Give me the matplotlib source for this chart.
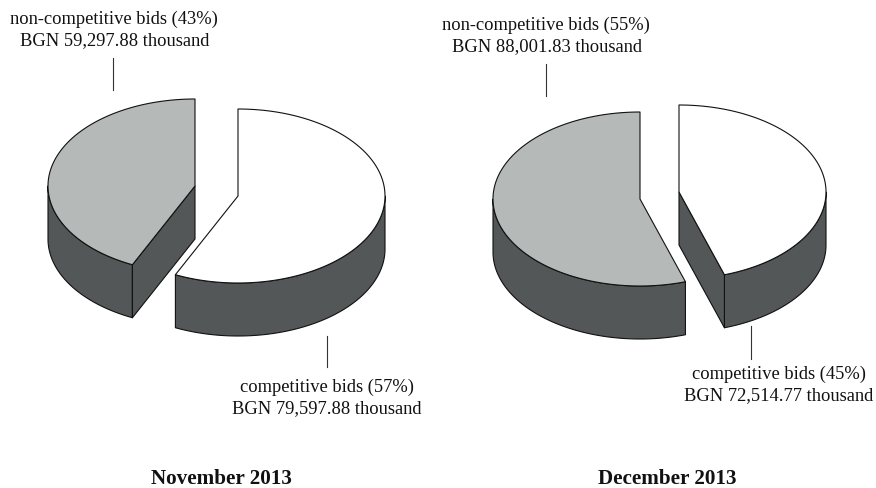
import numpy as np
import matplotlib
matplotlib.use("Agg")
import matplotlib.pyplot as plt
from matplotlib.patches import Polygon

months = ["November 2013", "December 2013"]
noncompetitive_share = [43, 55]
competitive_share = [57, 45]
noncompetitive_value = ["59,297.88", "88,001.83"]
competitive_value = ["79,597.88", "72,514.77"]

RX, RY, DEPTH = 147, 87, 53
TOP = "#b5b9b8"
WALL = "#535757"
EDGE = "#111111"
plt.rcParams["font.family"] = ["Liberation Serif", "DejaVu Serif"]

fig = plt.figure(figsize=(8.76, 4.88), dpi=100)
ax = fig.add_axes([0, 0, 1, 1])
ax.set_xlim(0, 876)
ax.set_ylim(488, 0)
ax.axis("off")


def pt(c, a):
    """a: degrees clockwise from the top of the ellipse."""
    r = np.radians(a)
    return c[0] + RX * np.sin(r), c[1] - RY * np.cos(r)


def arc(c, a0, a1):
    t = np.linspace(a0, a1, 200)
    return np.array([pt(c, x) for x in t])


def poly(p, fc, z):
    ax.add_patch(Polygon(p, closed=True, fc=fc, ec=EDGE, lw=0.8, joinstyle="round", zorder=z))


def outer_wall(c, a0, a1, z):
    """visible rim between angles a0 and a1 (clockwise)."""
    top = arc(c, a0, a1)
    bottom = top[::-1] + [0, DEPTH]
    poly(np.vstack([top, bottom]), WALL, z)


def cut_wall(c, a, z):
    p = pt(c, a)
    poly([c, p, (p[0], p[1] + DEPTH), (c[0], c[1] + DEPTH)], WALL, z)


def top_face(c, a0, a1, fc, z):
    poly(np.vstack([[c], arc(c, a0, a1)]), fc, z)


# --- left pie: grey slice runs counter-clockwise from the top, white clockwise
c_grey = (195, 186)
c_white = (238, 196)
a = 3.6 * noncompetitive_share[0]
outer_wall(c_grey, 360 - a, 270, 1)
cut_wall(c_grey, 360 - a, 2)
top_face(c_grey, 360 - a, 360, TOP, 3)
b = 3.6 * competitive_share[0]
outer_wall(c_white, 90, b, 1)
top_face(c_white, 0, b, "white", 3)

# --- right pie
c_grey = (640, 199)
c_white = (679, 192)
a = 3.6 * noncompetitive_share[1]
outer_wall(c_grey, 360 - a, 270, 1)
top_face(c_grey, 360 - a, 360, TOP, 3)
b = 3.6 * competitive_share[1]
outer_wall(c_white, 90, b, 1)
cut_wall(c_white, b, 2)
top_face(c_white, 0, b, "white", 3)

# leader lines
for x, y0, y1 in [(113, 58, 90), (327, 336, 367), (546, 64, 96), (751, 326, 359)]:
    ax.plot([x, x], [y0, y1], color="#333333", lw=0.8, zorder=4)

FS = 13.3
txt = dict(ha="center", va="center", fontsize=FS, color="#111111", linespacing=1.0)
ax.text(114, 19, f"non-competitive bids ({noncompetitive_share[0]}%)", **txt)
ax.text(114.5, 41, f"BGN {noncompetitive_value[0]} thousand", **txt)
ax.text(327, 387, f"competitive bids ({competitive_share[0]}%)", **txt)
ax.text(327, 409, f"BGN {competitive_value[0]} thousand", **txt)
ax.text(546, 25, f"non-competitive bids ({noncompetitive_share[1]}%)", **txt)
ax.text(547, 47, f"BGN {noncompetitive_value[1]} thousand", **txt)
ax.text(779, 374, f"competitive bids ({competitive_share[1]}%)", **txt)
ax.text(779, 396, f"BGN {competitive_value[1]} thousand", **txt)

ttl = dict(ha="center", va="baseline", fontsize=15.2, fontweight="bold", color="#111111")
ax.text(221, 484, months[0], **ttl)
ax.text(667.5, 484, months[1], **ttl)

fig.savefig("out.png", dpi=100, facecolor="white")
